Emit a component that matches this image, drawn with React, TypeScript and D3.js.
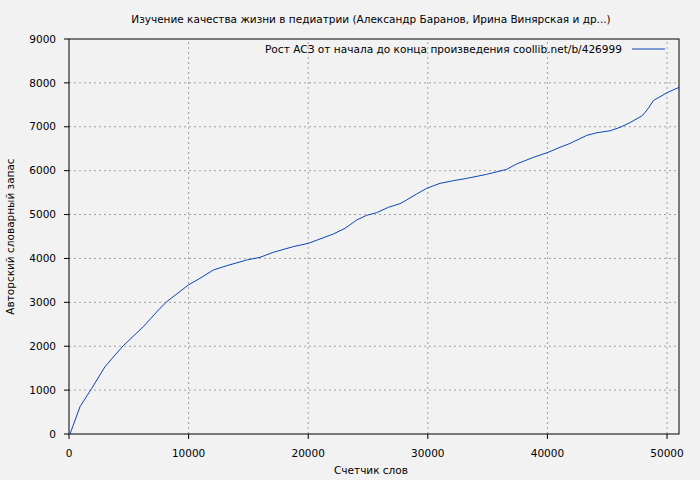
// Vocabulary growth plot, gnuplot style, drawn with d3 scales.

import * as d3 from "d3";

const title =
  "Изучение качества жизни в педиатрии (Александр Баранов, Ирина Винярская и др...)";
const xLabel = "Счетчик слов";
const yLabel = "Авторский словарный запас";
const legendLabel = "Рост АСЗ от начала до конца произведения coollib.net/b/426999";

// word counter
const words = [
  0, 100, 920, 1900, 3010, 3850, 4540, 6210, 7610, 8170, 9980, 10950, 12070,
  13190, 14860, 15970, 17080, 18760, 20010, 22100, 23080, 24050, 24880, 25720,
  26700, 27670, 28230, 29060, 29900, 31020, 32130, 33250, 34900, 36580, 37420,
  38810, 39980, 41050, 41900, 43290, 44120, 45230, 46070, 46900, 47960, 48430,
  48850, 50000, 51000,
];
// author vocabulary
const vocab = [
  0, 10, 622, 1040, 1533, 1800, 2012, 2445, 2864, 3015, 3395, 3547, 3737, 3835,
  3965, 4025, 4140, 4270, 4344, 4557, 4686, 4876, 4982, 5043, 5164, 5248, 5332,
  5468, 5597, 5711, 5772, 5824, 5915, 6029, 6152, 6302, 6410, 6532, 6622, 6804,
  6863, 6909, 6987, 7093, 7260, 7420, 7595, 7777, 7898,
];
const xTicks = [0, 10000, 20000, 30000, 40000, 50000];
const yTicks = [0, 1000, 2000, 3000, 4000, 5000, 6000, 7000, 8000, 9000];

export default function App() {
  const width = 700;
  const height = 480;
  const [marginTop, marginRight, marginBottom, marginLeft] = [39, 21, 46, 69];
  const font = "'DejaVu Sans', sans-serif";

  const scaleX = d3.scaleLinear([0, 51000], [marginLeft, width - marginRight]);
  const scaleY = d3.scaleLinear([0, 9000], [height - marginBottom, marginTop]);

  const l = d3.line<number>((d) => scaleX(d), (d, i) => scaleY(vocab[i]));

  const x0 = marginLeft;
  const x1 = width - marginRight;
  const y0 = height - marginBottom;
  const y1 = marginTop;

  return (
    <svg
      width={width}
      height={height}
      style={{ position: "absolute", left: 0, top: 0, background: "#f2f2f2" }}
      fontFamily={font}
      fontSize="10.5"
    >
      <rect width={width} height={height} fill="#f2f2f2" />
      {/* grid */}
      <g stroke="#a0a0a0" strokeDasharray="2,3" strokeWidth="1">
        {xTicks
          .filter((t) => t > 0)
          .map((t) => (
            <line key={t} x1={scaleX(t)} x2={scaleX(t)} y1={y0} y2={y1} />
          ))}
        {yTicks
          .filter((t) => t > 0 && t < 9000)
          .map((t) => (
            <line key={t} x1={x0} x2={x1} y1={scaleY(t)} y2={scaleY(t)} />
          ))}
      </g>
      {/* ticks */}
      <g stroke="#000" strokeWidth="1">
        {xTicks.map((t) => (
          <line key={t} x1={scaleX(t)} x2={scaleX(t)} y1={y0} y2={y0 + 5} />
        ))}
        {yTicks.map((t) => (
          <line key={t} x1={x0 - 5} x2={x0} y1={scaleY(t)} y2={scaleY(t)} />
        ))}
      </g>
      <g fill="#000">
        {xTicks.map((t) => (
          <text key={t} x={scaleX(t)} y={y0 + 23} textAnchor="middle">
            {t}
          </text>
        ))}
        {yTicks.map((t) => (
          <text
            key={t}
            x={x0 - 13}
            y={scaleY(t)}
            dy="0.35em"
            textAnchor="end"
          >
            {t}
          </text>
        ))}
      </g>
      <rect
        x={x0}
        y={y1}
        width={x1 - x0}
        height={y0 - y1}
        fill="none"
        stroke="#000"
        strokeWidth="1"
      />
      <path fill="none" stroke="#0a47b4" strokeWidth="1" d={l(words) || ""} />
      {/* legend */}
      <text
        x={265}
        y={49}
        dy="0.35em"
        textLength={357}
        lengthAdjust="spacingAndGlyphs"
      >
        {legendLabel}
      </text>
      <line x1={632} x2={665} y1={49} y2={49} stroke="#0a47b4" strokeWidth="1" />
      <text x={371} y={19} dy="0.35em" textAnchor="middle">
        {title}
      </text>
      <text x={371} y={470} dy="0.35em" textAnchor="middle">
        {xLabel}
      </text>
      <text
        transform={`translate(10, ${(y0 + y1) / 2}) rotate(-90)`}
        dy="0.35em"
        textAnchor="middle"
      >
        {yLabel}
      </text>
    </svg>
  );
}
